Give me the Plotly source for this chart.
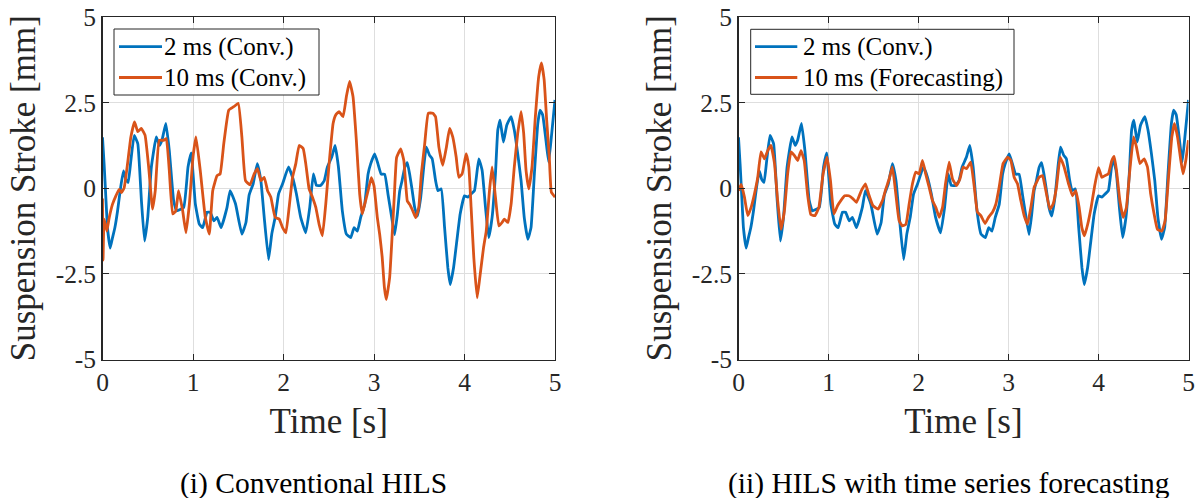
import plotly.graph_objects as go

# ---------------- data ----------------
t_conv2 = [0, 0.018, 0.037, 0.055, 0.085, 0.11, 0.136, 0.166, 0.2, 0.232, 0.258, 0.284, 0.313, 0.35, 0.39,
           0.43, 0.465, 0.5, 0.54, 0.594, 0.63, 0.657, 0.70, 0.738, 0.786, 0.82, 0.897, 0.945, 0.98, 1.026,
           1.07, 1.107, 1.155, 1.19, 1.23, 1.266, 1.31, 1.376, 1.41, 1.47, 1.54, 1.585, 1.62, 1.665, 1.71,
           1.75, 1.787, 1.835, 1.87, 1.908, 1.945, 1.99, 2.055, 2.1, 2.143, 2.19, 2.246, 2.29, 2.33, 2.364,
           2.41, 2.45, 2.485, 2.533, 2.57, 2.607, 2.65, 2.695, 2.743, 2.78, 2.816, 2.853, 2.897, 2.934, 2.963,
           3.007, 3.044, 3.08, 3.118, 3.155, 3.19, 3.228, 3.258, 3.284, 3.31, 3.34, 3.368, 3.394, 3.42, 3.45,
           3.48, 3.516, 3.553, 3.578, 3.614, 3.643, 3.68, 3.706, 3.743, 3.78, 3.816, 3.842, 3.879, 3.915, 3.952,
           4.0, 4.037, 4.073, 4.11, 4.158, 4.195, 4.232, 4.268, 4.305, 4.342, 4.368, 4.393, 4.43, 4.467, 4.515,
           4.55, 4.588, 4.625, 4.66, 4.7, 4.735, 4.772, 4.81, 4.835, 4.864, 4.9, 4.93, 4.96, 5.0]
v_conv2 = [1.49, 0.7, -0.27, -1.16, -1.75, -1.45, -1.16, -0.67, 0.02, 0.51, 0.26, 0.17, 0.8, 1.54, 1.3,
           -0.36, -1.54, -0.85, 0.62, 1.5, 1.25, 1.4, 1.89, 1.1, -0.36, -0.66, -0.56, 0.62, 1.03, -0.46,
           -1.05, -1.15, -0.7, -0.7, -0.95, -0.85, -1.15, -0.56, -0.07, -0.46, -1.34, -1.0, -0.2, 0.13, 0.72,
           0.22, -0.85, -2.08, -1.34, -0.85, -0.17, 0.13, 0.62, 0.32, -0.17, -0.85, -1.3, -0.56, 0.42, 0.08,
           0.08, 0.22, 0.62, 0.91, 1.25, 0.62, -0.66, -1.34, -1.44, -1.15, -1.25, -0.85, -0.47, 0.41, 0.71,
           1.0, 0.71, 0.41, 0.41, -0.18, -0.76, -1.35, -0.76, -0.08, 0.22, 0.61, 0.75, 0.41, -0.03, -0.57,
           -0.81, -0.27, 0.71, 1.2, 0.96, 0.86, 0.23, -0.07, -0.02, -1.15, -2.32, -2.81, -2.32, -1.54, -0.75,
           -0.22, -0.26, -0.17, -0.07, 0.86, 0.52, -0.56, -1.44, -0.85, 0.42, 1.7, 1.99, 1.35, 1.84, 2.09,
           1.7, 1.01, 0.23, -0.85, -1.49, -1.15, 0.42, 1.89, 2.28, 2.14, 1.4, 0.76, 1.5, 2.58]

t_conv10 = [0, 0.006, 0.018, 0.048, 0.074, 0.11, 0.147, 0.184, 0.21, 0.24, 0.276, 0.313, 0.354, 0.39, 0.428,
            0.47, 0.51, 0.553, 0.583, 0.627, 0.675, 0.705, 0.738, 0.775, 0.81, 0.84, 0.886, 0.922, 0.96, 1.0,
            1.033, 1.08, 1.136, 1.18, 1.218, 1.266, 1.30, 1.34, 1.395, 1.45, 1.5, 1.54, 1.58, 1.63, 1.676,
            1.713, 1.75, 1.787, 1.824, 1.86, 1.908, 1.952, 1.99, 2.026, 2.062, 2.1, 2.136, 2.173, 2.217, 2.246,
            2.283, 2.32, 2.357, 2.393, 2.43, 2.467, 2.504, 2.548, 2.577, 2.614, 2.658, 2.695, 2.73, 2.768,
            2.805, 2.842, 2.87, 2.897, 2.934, 2.97, 3.0, 3.037, 3.063, 3.09, 3.115, 3.136, 3.173, 3.2, 3.225,
            3.25, 3.295, 3.33, 3.368, 3.394, 3.43, 3.46, 3.494, 3.523, 3.56, 3.6, 3.65, 3.68, 3.717, 3.76,
            3.8, 3.835, 3.87, 3.908, 3.937, 3.974, 4.018, 4.048, 4.073, 4.103, 4.14, 4.173, 4.21, 4.24, 4.276,
            4.305, 4.342, 4.38, 4.415, 4.44, 4.48, 4.515, 4.55, 4.588, 4.625, 4.654, 4.68, 4.71, 4.746, 4.783,
            4.82, 4.85, 4.88, 4.908, 4.937, 4.96, 5.0]
v_conv10 = [-0.3, -2.1, -0.9, -1.25, -0.86, -0.47, -0.23, -0.03, -0.13, 0.02, 0.7, 1.49, 1.94, 1.65, 1.75,
            1.55, 0.62, -0.61, -0.07, 1.4, 1.4, 1.45, 0.52, -0.75, -0.66, -0.07, -0.66, -1.3, -0.46, 0.91,
            1.5, 0.52, -0.85, -1.34, -0.07, 0.37, 0.42, 1.3, 2.28, 2.38, 2.48, 1.5, 0.22, 0.1, 0.42,
            0.57, 0.22, 0.32, -0.07, -0.26, -0.85, -0.9, -1.15, -1.3, -0.56, 0.32, 0.72, 1.25, 1.16, 0.72,
            -0.02, -0.26, -0.56, -1.05, -1.39, -0.46, 0.72, 1.89, 2.14, 2.24, 2.09, 2.68, 3.12, 2.68,
            1.4, -0.17, -0.75, -0.47, -0.08, 0.31, 0.07, -0.86, -1.35, -2.0, -2.9, -3.25, -2.6, -1.4, -0.2,
            0.9, 1.15, 0.8, -0.37, -0.47, -0.67, -0.86, -0.57, 0.41, 1.29, 2.19, 2.19, 2.09, 1.2, 0.67,
            1.2, 1.75, 1.5, 0.91, 0.32, 0.42, 1.01, 0.62, -0.56, -2.03, -3.2, -2.52, -1.74, -1.25, -0.07,
            0.62, -0.26, -1.1, -1.0, -0.9, -1.0, -0.46, 0.62, 1.6, 2.24, 1.6, 0.52, -0.02, 0.62, 2.09,
            3.26, 3.66, 3.17, 1.99, 0.91, -0.12, -0.26]

t_fc10 = [0, 0.03, 0.066, 0.103, 0.14, 0.177, 0.214, 0.25, 0.288, 0.325, 0.36, 0.4, 0.435, 0.472, 0.51,
          0.546, 0.583, 0.62, 0.657, 0.694, 0.73, 0.767, 0.804, 0.85, 0.893, 0.94, 0.985, 1.022, 1.06, 1.1,
          1.137, 1.18, 1.225, 1.273, 1.31, 1.365, 1.41, 1.446, 1.494, 1.55, 1.6, 1.637, 1.674, 1.71, 1.748,
          1.785, 1.822, 1.86, 1.896, 1.933, 1.97, 2.007, 2.044, 2.08, 2.118, 2.155, 2.193, 2.23, 2.267, 2.3,
          2.34, 2.378, 2.422, 2.46, 2.496, 2.533, 2.58, 2.62, 2.655, 2.693, 2.74, 2.778, 2.822, 2.86, 2.896,
          2.94, 2.99, 3.026, 3.063, 3.1, 3.137, 3.174, 3.21, 3.248, 3.285, 3.304, 3.34, 3.378, 3.415, 3.46,
          3.496, 3.533, 3.574, 3.618, 3.667, 3.711, 3.748, 3.785, 3.815, 3.844, 3.88, 3.918, 3.955, 4.0,
          4.037, 4.074, 4.11, 4.148, 4.174, 4.2, 4.237, 4.274, 4.31, 4.348, 4.39, 4.422, 4.46, 4.507, 4.544,
          4.58, 4.618, 4.655, 4.704, 4.74, 4.778, 4.815, 4.844, 4.878, 4.915, 4.94, 4.97, 5.0]
v_fc10 = [-0.07, 0.11, -0.26, -0.8, -0.56, -0.17, 0.32, 1.06, 0.86, 1.1, 1.25, 0.72, -0.36, -1.2, -0.66,
          0.42, 1.06, 0.96, 0.81, 1.1, 0.81, -0.17, -0.77, -0.8, -0.56, 0.42, 0.91, 0.22, -0.75, -0.51,
          -0.36, -0.22, -0.22, -0.31, -0.41, -0.07, 0.13, -0.17, -0.51, -0.61, -0.36, -0.02, 0.27, 0.62, -0.17,
          -0.95, -1.1, -1.05, -0.46, 0.13, 0.47, 0.42, 0.81, 0.42, 0.03, -0.36, -0.56, -0.85, -0.56, 0.13,
          0.76, 0.27, 0.08, 0.27, 0.62, 0.57, 0.76, 0.03, -0.7, -0.8, -1.03, -0.85, -0.7, -0.46, 0.03,
          0.72, 0.91, 0.81, 0.32, 0.13, -0.36, -0.8, -1.05, -0.56, 0.03, 0.13, 0.32, 0.37, -0.07, -0.61,
          -0.46, 0.03, 0.91, 0.62, 0.13, -0.22, -0.07, -0.56, -1.15, -1.39, -1.05, -0.56, 0.03, 0.6,
          0.32, 0.37, 0.42, 0.81, 0.93, 0.52, -0.36, -0.85, -0.56, 0.52, 1.5, 1.2, 0.72, 0.86, 0.62,
          -0.17, -0.75, -1.2, -1.25, -0.95, 0.32, 1.5, 1.89, 1.5, 0.81, 0.42, 0.81, 1.4]

assert len(t_conv2) == len(v_conv2), (len(t_conv2), len(v_conv2))
assert len(t_conv10) == len(v_conv10), (len(t_conv10), len(v_conv10))
assert len(t_fc10) == len(v_fc10), (len(t_fc10), len(v_fc10))

x_ticks = [0, 1, 2, 3, 4, 5]
y_ticks = [-5, -2.5, 0, 2.5, 5]
y_tick_text = ["-5", "-2.5", "0", "2.5", "5"]
names_left = ["2 ms (Conv.)", "10 ms (Conv.)"]
names_right = ["2 ms (Conv.)", "10 ms (Forecasting)"]
captions = ["(i) Conventional HILS", "(ii) HILS with time series forecasting"]

# ---------------- styling ----------------
# The page's body margin is removed (post_script below), so the figure fills
# the 1198x498 window and positions below are window pixels.
W, H = 1198, 498
FONT = '"Liberation Serif", "Times New Roman", Times, serif'
INK = "#262626"
GRID = "#dedede"
BLUE = "#0072BD"
ORANGE = "#D95319"
LW = 2.8
SMOOTH = 0.35


def px_x(p):
    return p / W


def px_y(p):
    return 1 - p / H


fig = go.Figure()

panels = [
    dict(xa="x", ya="y", series=[(t_conv2, v_conv2, names_left[0], BLUE),
                                 (t_conv10, v_conv10, names_left[1], ORANGE)]),
    dict(xa="x2", ya="y2", series=[(t_conv2, v_conv2, names_right[0], BLUE),
                                   (t_fc10, v_fc10, names_right[1], ORANGE)]),
]
for p in panels:
    for tx, vy, nm, col in p["series"]:
        fig.add_trace(go.Scatter(x=tx, y=vy, name=nm, mode="lines", showlegend=False, hoverinfo="skip",
                                 line=dict(color=col, width=LW, shape="spline", smoothing=SMOOTH),
                                 xaxis=p["xa"], yaxis=p["ya"]))

ydom = [px_y(359.5), px_y(17)]
xdom1 = [px_x(102.5), px_x(555)]
xdom2 = [px_x(738.5), px_x(1188.5)]


def xaxis(dom, anchor):
    return dict(domain=dom, anchor=anchor, range=[0, 5], tickvals=x_ticks, ticks="inside", ticklen=6,
                tickcolor=INK, showline=True, linecolor=INK, linewidth=1.3, mirror="ticks",
                showgrid=True, gridcolor=GRID, gridwidth=1, zeroline=False,
                ticklabeloverflow="allow",
                tickfont=dict(family=FONT, size=25.5, color=INK),
                title=dict(text="Time [s]", font=dict(family=FONT, size=35, color=INK), standoff=12),
                automargin=False)


def yaxis(anchor):
    return dict(domain=ydom, anchor=anchor, range=[-5, 5], tickvals=y_ticks, ticktext=y_tick_text,
                ticks="inside", ticklen=6, tickcolor=INK, showline=True, linecolor=INK, linewidth=1.3,
                mirror="ticks", showgrid=True, gridcolor=GRID, gridwidth=1, zeroline=False,
                ticklabeloverflow="allow",
                tickfont=dict(family=FONT, size=25.5, color=INK),
                title=dict(text="Suspension Stroke [mm]", font=dict(family=FONT, size=35, color=INK), standoff=9),
                automargin=False)


# legend boxes drawn like MATLAB's (box, short line sample, label)
legends = [
    dict(box=(114, 29, 319, 95), line_x=(119, 162), text_x=163, rows=(46.7, 77.5),
         names=names_left),
    dict(box=(750.7, 29.3, 1014, 94.3), line_x=(755, 797.3), text_x=801.5, rows=(46.7, 77.5),
         names=names_right),
]
shapes = []
annotations = []
for lg in legends:
    x0, y0, x1, y1 = lg["box"]
    shapes.append(dict(type="rect", xref="paper", yref="paper", x0=px_x(x0), x1=px_x(x1),
                       y0=px_y(y1), y1=px_y(y0), line=dict(color=INK, width=1), fillcolor="white",
                       layer="above"))
    for ry, col, nm in zip(lg["rows"], [BLUE, ORANGE], lg["names"]):
        shapes.append(dict(type="line", xref="paper", yref="paper", x0=px_x(lg["line_x"][0]),
                           x1=px_x(lg["line_x"][1]), y0=px_y(ry), y1=px_y(ry),
                           line=dict(color=col, width=LW), layer="above"))
        annotations.append(dict(text=nm, x=px_x(lg["text_x"]), y=px_y(ry + 0.5), xref="paper", yref="paper",
                                showarrow=False, xanchor="left", yanchor="middle", borderpad=0,
                                font=dict(family=FONT, size=25, color="#000000")))

for cap, cx in zip(captions, [313, 949]):
    annotations.append(dict(text=cap, x=px_x(cx), y=px_y(483), xref="paper", yref="paper", showarrow=False,
                            xanchor="center", yanchor="middle", font=dict(family=FONT, size=29.5, color="#000000")))

fig.update_layout(
    width=W, height=H, margin=dict(l=0, r=0, t=0, b=0),
    paper_bgcolor="white", plot_bgcolor="white",
    font=dict(family=FONT, color=INK),
    xaxis=xaxis(xdom1, "y"), yaxis=yaxis("x"),
    xaxis2=xaxis(xdom2, "y2"), yaxis2=yaxis("x2"),
    showlegend=False,
    hovermode=False,
    shapes=shapes,
    annotations=annotations,
)

fig.write_html("out.html",
               config={"displayModeBar": False, "staticPlot": True},
               post_script="document.body.style.margin='0px';document.body.style.overflow='hidden';")
